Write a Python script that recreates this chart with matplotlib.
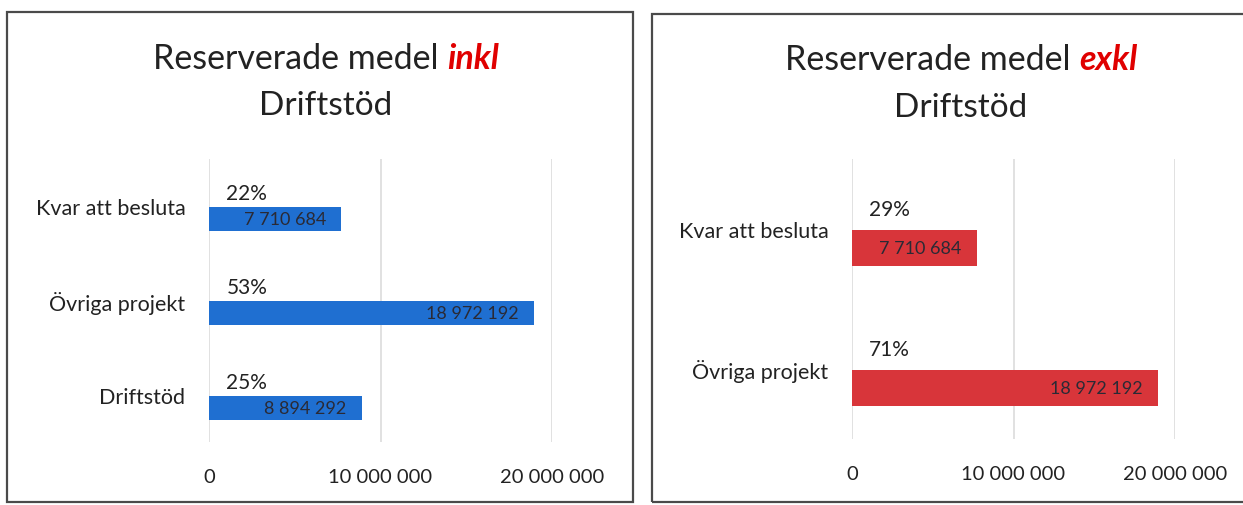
import matplotlib
matplotlib.use("Agg")
import matplotlib.pyplot as plt
from matplotlib.patches import Rectangle

# ---- data ----
categories_left = ["Kvar att besluta", "Övriga projekt", "Driftstöd"]
values_left = [7710684, 18972192, 8894292]
categories_right = ["Kvar att besluta", "Övriga projekt"]
values_right = [7710684, 18972192]
xticks = [0, 10_000_000, 20_000_000]
xtick_labels = ["0", "10 000 000", "20 000 000"]
title_main = "Reserverade medel "
title_kw_left = "inkl"
title_kw_right = "exkl"
title_line2 = "Driftstöd"

plt.rcParams["font.family"] = ["Lato", "DejaVu Sans"]

W, H = 1243, 506
fig = plt.figure(figsize=(W / 100, H / 100), dpi=100)
fig.patch.set_facecolor("white")

def px_rect(l, r, top, bottom):
    return [l / W, 1 - bottom / H, (r - l) / W, (bottom - top) / H]

# panel borders
fig.patches.append(Rectangle((7 / W, 1 - 503 / H), (633 - 7) / W, (503 - 13) / H,
                             transform=fig.transFigure, fill=False, ec="#4a4a4a", lw=1.6))
fig.patches.append(Rectangle((652 / W, 1 - 503 / H), (1260 - 652) / W, (503 - 15) / H,
                             transform=fig.transFigure, fill=False, ec="#4a4a4a", lw=1.6))

renderer = fig.canvas.get_renderer()

def draw_title(xc, base1, base2, kw):
    size = 24.5
    t1 = fig.text(0, 0, title_main, fontsize=size, color="#222222", ha="left", va="baseline")
    t2 = fig.text(0, 0, kw, fontsize=size, color="#e00000", fontweight="bold",
                  fontstyle="italic", ha="left", va="baseline")
    w1 = t1.get_window_extent(renderer).width
    w2 = t2.get_window_extent(renderer).width
    x0 = xc - (w1 + w2) / 2
    t1.set_position((x0 / W, 1 - base1 / H))
    t2.set_position(((x0 + w1) / W, 1 - base1 / H))
    fig.text(xc / W, 1 - base2 / H, title_line2, fontsize=24, color="#222222",
             ha="center", va="baseline")

def draw_panel(rect, cats, vals, color):
    ax = fig.add_axes(rect)
    n = len(cats)
    total = sum(vals)
    pos = list(range(n))
    bar_pos = [p + 0.135 for p in pos]
    ax.barh(bar_pos, vals, height=0.255, color=color, zorder=3)
    for p, v in zip(pos, vals):
        pct = f"{round(v / total * 100)}%"
        ax.annotate(pct, (0, p - 0.14), xytext=(12.5, 0), textcoords="offset points",
                    ha="left", va="center", fontsize=15, color="#222222")
        ax.annotate(f"{v:,}".replace(",", " "), (v, p + 0.135), xytext=(-11, 0),
                    textcoords="offset points", ha="right", va="center",
                    fontsize=13, color="#2a2a35", zorder=4)
    ax.set_xlim(0, 20_000_000)
    ax.set_ylim(n - 0.5, -0.5)
    ax.set_yticks(pos)
    ax.set_yticklabels(cats, fontsize=15.5, color="#222222")
    ax.set_xticks(xticks)
    ax.set_xticklabels(xtick_labels, fontsize=14.5, color="#222222")
    ax.tick_params(axis="both", length=0)
    ax.tick_params(axis="x", pad=19)
    ax.tick_params(axis="y", pad=17)
    ax.grid(axis="x", color="#dcdcdc", lw=1.2, zorder=0)
    for s in ax.spines.values():
        s.set_visible(False)
    ax.set_facecolor("none")
    return ax

draw_panel(px_rect(209, 552, 160, 443), categories_left, values_left, "#1f6fd1")
draw_panel(px_rect(852, 1175, 160, 440), categories_right, values_right, "#d8353a")

draw_title(326, 69, 115, title_kw_left)
draw_title(961, 70, 117, title_kw_right)

fig.savefig("out.png", dpi=100)
